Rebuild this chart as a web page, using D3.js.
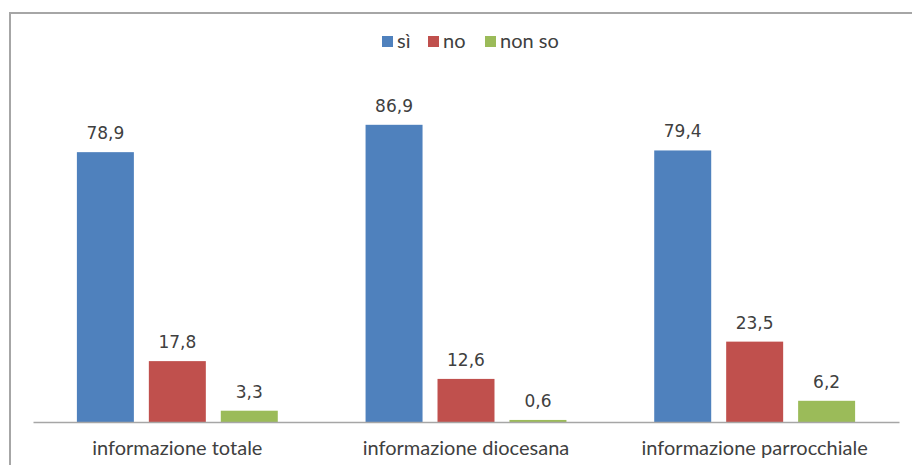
<!DOCTYPE html>
<html>
<head>
<meta charset="utf-8">
<script src="https://cdn.jsdelivr.net/npm/d3@7"></script>
<style>
  html, body { margin: 0; padding: 0; background: #fff; }
  svg { display: block; }
</style>
</head>
<body>
<svg id="chart" width="912" height="465"></svg>
<script>
// Categories and series
const categories = ["informazione totale", "informazione diocesana", "informazione parrocchiale"];
const seriesNames = ["sì", "no", "non so"];
const siValues = [78.9, 86.9, 79.4];
const noValues = [17.8, 12.6, 23.5];
const nonSoValues = [3.3, 0.6, 6.2];
const seriesColors = ["#4f81bd", "#c0504d", "#9bbb59"];

const seriesValues = [siValues, noValues, nonSoValues];
const rows = categories.map((c, i) => ({
  category: c,
  values: seriesNames.map((s, j) => ({ series: s, value: seriesValues[j][i], color: seriesColors[j] }))
}));

const svg = d3.select("#chart");
const fmt = v => d3.format(".1f")(v).replace(".", ",");

const plot = { left: 33, right: 899, bottom: 422 };

// outer frame (only left and top edges fall inside the canvas)
svg.append("path")
  .attr("d", `M10,470 L10,13 L915,13`)
  .attr("fill", "none")
  .attr("stroke", "#a6a6a6")
  .attr("stroke-width", 2);

const x0 = d3.scaleBand()
  .domain(categories)
  .range([plot.left, plot.right])
  .paddingInner(0)
  .paddingOuter(0);

const x1 = d3.scaleBand()
  .domain(seriesNames)
  .range([0, x0.bandwidth()])
  .paddingInner(0.208)
  .paddingOuter(0.61);

const y = d3.scaleLinear()
  .domain([0, 100])
  .range([plot.bottom, plot.bottom - 342]);

const groups = svg.append("g").selectAll("g")
  .data(rows)
  .join("g")
  .attr("transform", d => `translate(${x0(d.category)},0)`);

groups.selectAll("rect")
  .data(d => d.values)
  .join("rect")
  .attr("x", d => x1(d.series))
  .attr("width", x1.bandwidth())
  .attr("y", d => y(d.value))
  .attr("height", d => y(0) - y(d.value))
  .attr("fill", d => d.color);

groups.selectAll("text.val")
  .data(d => d.values)
  .join("text")
  .attr("class", "val")
  .attr("x", d => x1(d.series) + x1.bandwidth() / 2)
  .attr("y", d => y(d.value) - 13)
  .attr("text-anchor", "middle")
  .attr("font-family", "DejaVu Sans, Verdana, sans-serif")
  .attr("font-size", 17)
  .attr("fill", "#404040")
  .text(d => fmt(d.value));

// category axis
const xAxis = svg.append("g")
  .attr("transform", `translate(0,${plot.bottom})`)
  .call(d3.axisBottom(x0).tickSize(0).tickPadding(18));
xAxis.select(".domain").attr("stroke", "#a6a6a6").attr("stroke-width", 1.5);
xAxis.selectAll("text")
  .attr("dy", null)
  .attr("y", 33)
  .attr("font-family", "Lato, sans-serif")
  .attr("font-size", 20)
  .attr("fill", "#404040");

// legend
const legendX = [382, 428, 485];
const legend = svg.append("g").selectAll("g")
  .data(seriesNames)
  .join("g")
  .attr("transform", (d, i) => `translate(${legendX[i]},36)`);
legend.append("rect")
  .attr("width", 11).attr("height", 11)
  .attr("fill", (d, i) => seriesColors[i]);
legend.append("text")
  .attr("x", 15).attr("y", 12)
  .attr("font-family", "Lato, sans-serif")
  .attr("font-size", 20)
  .attr("fill", "#404040")
  .text(d => d);
</script>
</body>
</html>
